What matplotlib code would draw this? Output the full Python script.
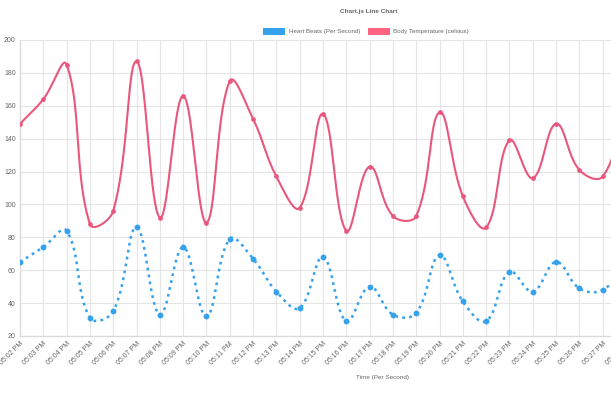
import matplotlib
matplotlib.use("Agg")
import matplotlib.pyplot as plt
from matplotlib.patches import Rectangle
import numpy as np

plt.rcParams['font.family'] = ['Liberation Sans', 'DejaVu Sans']

# minute labels, 05:02 PM .. 05:28 PM
times = ["05:%02d PM" % m for m in range(2, 29)]

heart_beats = [65, 74, 84, 31, 35, 86, 33, 74, 32, 79, 67, 47, 37, 68, 29, 50,
               33, 34, 69, 41, 29, 59, 47, 65, 49, 48, 64]
body_temp = [149, 164, 185, 88, 96, 187, 92, 166, 89, 175, 152, 117, 98, 155, 84,
             123, 93, 93, 156, 105, 86, 139, 116, 149, 121, 117, 160]

BLUE = "#36a2eb"
PINK = "#ff6384"
PINK_LINE = "#e9577d"
GRID = "#e5e5e5"
TXT = "#666666"

W, H = 611, 393
X0, X1 = 20, 626      # plot area in pixels (right side runs off the canvas)
Y0, Y1 = 40, 336


def spline(xs, ys, sx, sy, t=0.4):
    # chart.js style cubic bezier through the points (pixel distances)
    px = np.asarray(xs, float) * sx
    py = np.asarray(ys, float) * sy
    n = len(px)
    cp_prev, cp_next = [], []
    for i in range(n):
        pi = max(i - 1, 0)
        ni = min(i + 1, n - 1)
        d01 = np.hypot(px[i] - px[pi], py[i] - py[pi])
        d12 = np.hypot(px[ni] - px[i], py[ni] - py[i])
        s = d01 + d12
        s01 = d01 / s if s else 0
        s12 = d12 / s if s else 0
        dx, dy = px[ni] - px[pi], py[ni] - py[pi]
        cp_prev.append((px[i] - t * s01 * dx, py[i] - t * s01 * dy))
        cp_next.append((px[i] + t * s12 * dx, py[i] + t * s12 * dy))
    u = np.linspace(0, 1, 40)[:, None]
    out = []
    for i in range(n - 1):
        p0 = np.array([px[i], py[i]])
        p3 = np.array([px[i + 1], py[i + 1]])
        c1 = np.array(cp_next[i])
        c2 = np.array(cp_prev[i + 1])
        seg = ((1 - u) ** 3) * p0 + 3 * ((1 - u) ** 2) * u * c1 + 3 * (1 - u) * u ** 2 * c2 + u ** 3 * p3
        out.append(seg if i == 0 else seg[1:])
    pts = np.vstack(out)
    return pts[:, 0] / sx, pts[:, 1] / sy


fig = plt.figure(figsize=(W / 100, H / 100), dpi=100)
ax = fig.add_axes([X0 / W, 1 - Y1 / H, (X1 - X0) / W, (Y1 - Y0) / H])

idx = np.arange(len(times))
sx = (X1 - X0) / (len(times) - 1)
sy = (Y1 - Y0) / 180.0

bx, by = spline(idx, heart_beats, sx, sy)
ax.plot(bx, by, color=BLUE, lw=1.8, dashes=(1.1, 1.7), dash_capstyle='butt', zorder=3)
ax.plot(idx, heart_beats, 'o', color=BLUE, ms=3.2, zorder=4)

tx, ty = spline(idx, body_temp, sx, sy)
ax.plot(tx, ty, color=PINK_LINE, lw=1.5, zorder=3)
ax.plot(idx, body_temp, 'o', color=PINK_LINE, ms=2.4, zorder=4)

ax.set_xlim(0, len(times) - 1)
ax.set_ylim(20, 200)
ax.set_yticks(range(20, 201, 20))
ax.set_xticks(idx)
ax.set_xticklabels(times, rotation=45, ha='right', rotation_mode='anchor')
ax.tick_params(axis='both', length=0, labelsize=5.0, colors=TXT, pad=3)
ax.grid(True, color=GRID, lw=0.8)
ax.set_axisbelow(True)
for side in ['top', 'right']:
    ax.spines[side].set_visible(False)
for side in ['left', 'bottom']:
    ax.spines[side].set_color("#d9d9d9")
    ax.spines[side].set_linewidth(0.9)

fig.text(369 / W, 1 - 12 / H, "Chart.js Line Chart", ha='center', va='center',
         fontsize=4.6, fontweight='bold', color=TXT)
fig.text(383 / W, 1 - 377 / H, "Time (Per Second)", ha='center', va='center',
         fontsize=4.6, color=TXT)

# legend
fig.patches.append(Rectangle((263 / W, 1 - 35 / H), 22 / W, 7 / H, transform=fig.transFigure,
                             facecolor=BLUE, edgecolor=BLUE, hatch='xxxx', lw=0))
fig.text(289 / W, 1 - 31.5 / H, "Heart Beats (Per Second)", ha='left', va='center',
         fontsize=4.5, color=TXT)
fig.patches.append(Rectangle((368 / W, 1 - 35 / H), 22 / W, 7 / H, transform=fig.transFigure,
                             facecolor=PINK, edgecolor=PINK, lw=0))
fig.text(393 / W, 1 - 31.5 / H, "Body Temperature (celsius)", ha='left', va='center',
         fontsize=4.5, color=TXT)

fig.savefig("out.png", dpi=100)
